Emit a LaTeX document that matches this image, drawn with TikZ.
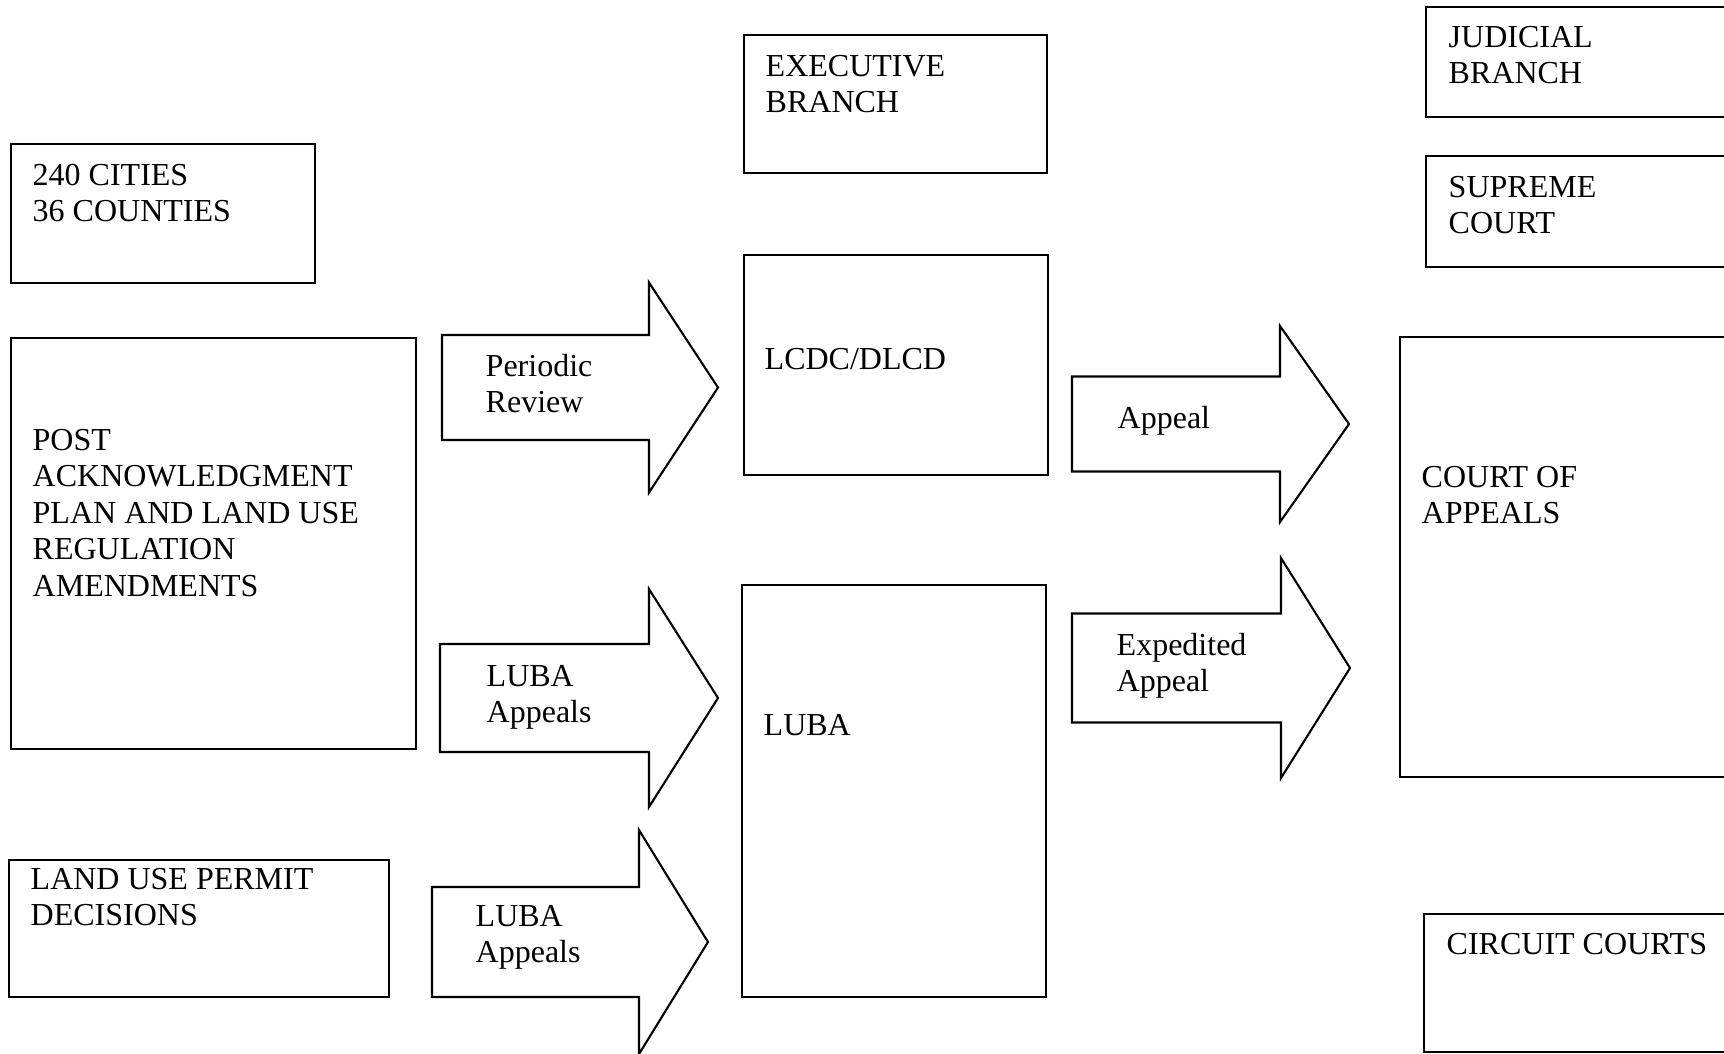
\documentclass[tikz,border=0pt]{standalone}
\usepackage{fontspec}
\setmainfont{Liberation Serif}
\usetikzlibrary{calc}

% block arrow: shaft start, head start, tip, centre y, half shaft, half head
\newcommand{\blockarrow}[6]{%
  \draw[arr] (#1,#4-#5) -- (#2,#4-#5) -- (#2,#4-#6) -- (#3,#4) -- (#2,#4+#6) -- (#2,#4+#5) -- (#1,#4+#5) -- cycle;}

\begin{document}
\begin{tikzpicture}[x=0.01cm, y=-0.01cm,
    box/.style={draw, line width=0.6pt},
    arr/.style={draw, line width=0.6pt, line join=miter},
    txt/.style={anchor=base west, inner sep=0pt, align=left, font=\fontsize{9.1}{10.4}\selectfont}]
      \useasboundingbox (0,0) rectangle (1724,1053);

      % local governments (text placed at the baseline of its last line)
      \draw[box] (11,144) rectangle (315,283);
      \node[txt] (cities) at (32,221.6) {240 CITIES\\36 COUNTIES};
      \draw[box] (11,338) rectangle (416,749);
      \node[txt] (post) at (32,596.3) {POST\\ACKNOWLEDGMENT\\PLAN AND LAND USE\\REGULATION\\AMENDMENTS};
      \draw[box] (9,860) rectangle (389,997);
      \node[txt] (permit) at (30,925.6) {LAND USE PERMIT\\DECISIONS};

      % executive branch
      \draw[box] (744,35) rectangle (1047,173);
      \node[txt] (exec) at (765,112.6) {EXECUTIVE\\BRANCH};
      \draw[box] (744,255) rectangle (1048,475);
      \node[txt] (lcdc) at (764,369) {LCDC/DLCD};
      \draw[box] (742,585) rectangle (1046,997);
      \node[txt] (luba) at (763,735) {LUBA};

      % judicial branch
      \draw[box] (1724,7) -- (1426,7) -- (1426,117) -- (1724,117);
      \node[txt] (judicial) at (1448,83.6) {JUDICIAL\\BRANCH};
      \draw[box] (1724,156) -- (1426,156) -- (1426,267) -- (1724,267);
      \node[txt] (supreme) at (1448,233.6) {SUPREME\\COURT};
      \draw[box] (1724,337) -- (1400,337) -- (1400,777) -- (1724,777);
      \node[txt] (coa) at (1421,523.6) {COURT OF\\APPEALS};
      \draw[box] (1724,914) -- (1424,914) -- (1424,1052) -- (1724,1052);
      \node[txt] (circuit) at (1446,954) {CIRCUIT COURTS};

      % arrows
      \blockarrow{442}{649}{718}{387.5}{52.5}{105}
      \node[txt] (review) at (485,412.6) {Periodic\\Review};
      \blockarrow{440}{649}{718}{698}{54}{109}
      \node[txt] (lubaone) at (486,722.6) {LUBA\\Appeals};
      \blockarrow{432}{639}{708}{942}{55}{112}
      \node[txt] (lubatwo) at (475,962.6) {LUBA\\Appeals};
      \blockarrow{1072}{1280}{1349}{424}{47.5}{98}
      \node[txt] (appeal) at (1117,428) {Appeal};
      \blockarrow{1072}{1281}{1350}{668}{54.5}{110}
      \node[txt] (expedited) at (1116,691.6) {Expedited\\Appeal};
    \end{tikzpicture}
\end{document}
